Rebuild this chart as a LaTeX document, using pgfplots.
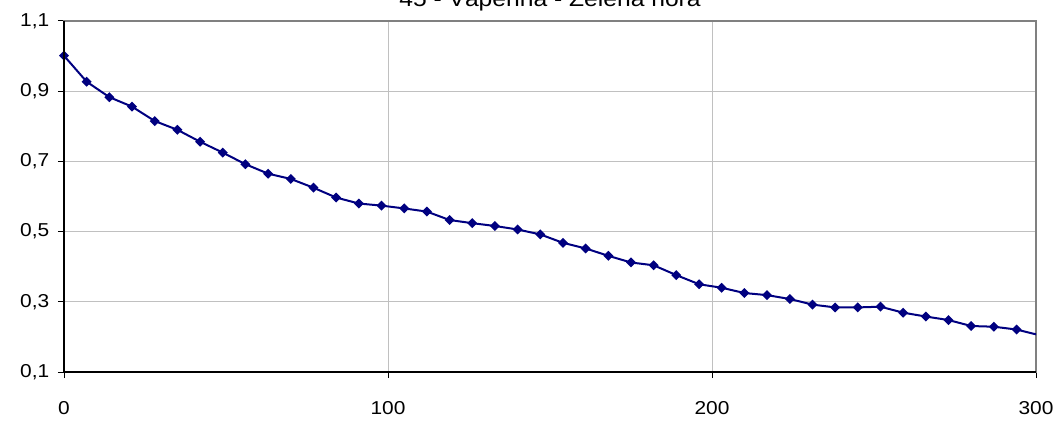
\documentclass[border=0pt]{standalone}
\usepackage{fontspec}
\setmainfont[FakeStretch=1.12]{Liberation Sans}
\usepackage{pgfplots}
\pgfplotsset{compat=1.18}

\definecolor{navyline}{RGB}{0,0,128}
\definecolor{gridgray}{RGB}{192,192,192}
\definecolor{framegray}{RGB}{128,128,128}

\begin{document}
\begin{tikzpicture}[font=\fontsize{14}{17}\selectfont]
\begin{axis}[
    name=main,
    scale only axis,
    width=729pt, height=263.25pt,
    xmin=0, xmax=300,
    ymin=0.1, ymax=1.1,
    xtick={0,100,200,300},
    ytick={0.1,0.3,0.5,0.7,0.9,1.1},
    grid=major,
    major grid style={gridgray, line width=0.75pt},
    axis line style={framegray, line width=1.5pt},
    tick align=outside,
    tick pos=left,
    major tick length=4.5pt,
    tick style={black, line width=0.75pt},
    tick label style={font=\fontsize{14}{17}\selectfont},
    /pgf/number format/assume math mode=true,
    /pgf/number format/use comma,
    /pgf/number format/fixed,
    /pgf/number format/fixed zerofill,
    /pgf/number format/precision=1,
    xticklabel style={yshift=-14pt, /pgf/number format/precision=0},
    yticklabel style={xshift=-3pt},
    clip mode=individual,
]
\addplot[navyline, line width=1.5pt, mark=square*, mark size=1.9pt,
         mark options={rotate=45, solid}]
coordinates {
(0,1.001)(7,0.927)(14,0.883)(21,0.856)(28,0.815)(35,0.790)(42,0.756)
(49,0.725)(56,0.692)(63,0.665)(70,0.650)(77,0.625)(84,0.597)(91,0.580)
(98,0.574)(105,0.566)(112,0.557)(119,0.533)(126,0.524)(133,0.516)
(140,0.506)(147,0.492)(154,0.468)(161,0.452)(168,0.431)(175,0.412)
(182,0.404)(189,0.376)(196,0.350)(203,0.340)(210,0.325)(217,0.319)
(224,0.308)(231,0.292)(238,0.284)(245,0.284)(252,0.286)(259,0.269)
(266,0.258)(273,0.248)(280,0.231)(287,0.229)(294,0.221)(301,0.205)
};
\draw[black, line width=1.5pt] (rel axis cs:0,1) -- (rel axis cs:0,0) -- (rel axis cs:1,0);
\end{axis}
\node[anchor=base, font=\fontsize{16.5}{19}\selectfont] at ([yshift=10.5pt]main.north) {45 - Vápenná - Zelená hora};
\pgfresetboundingbox
\useasboundingbox ([xshift=-48pt, yshift=-36.75pt]main.south west)
  rectangle ([xshift=17.25pt, yshift=15.75pt]main.north east);
\end{tikzpicture}
\end{document}
